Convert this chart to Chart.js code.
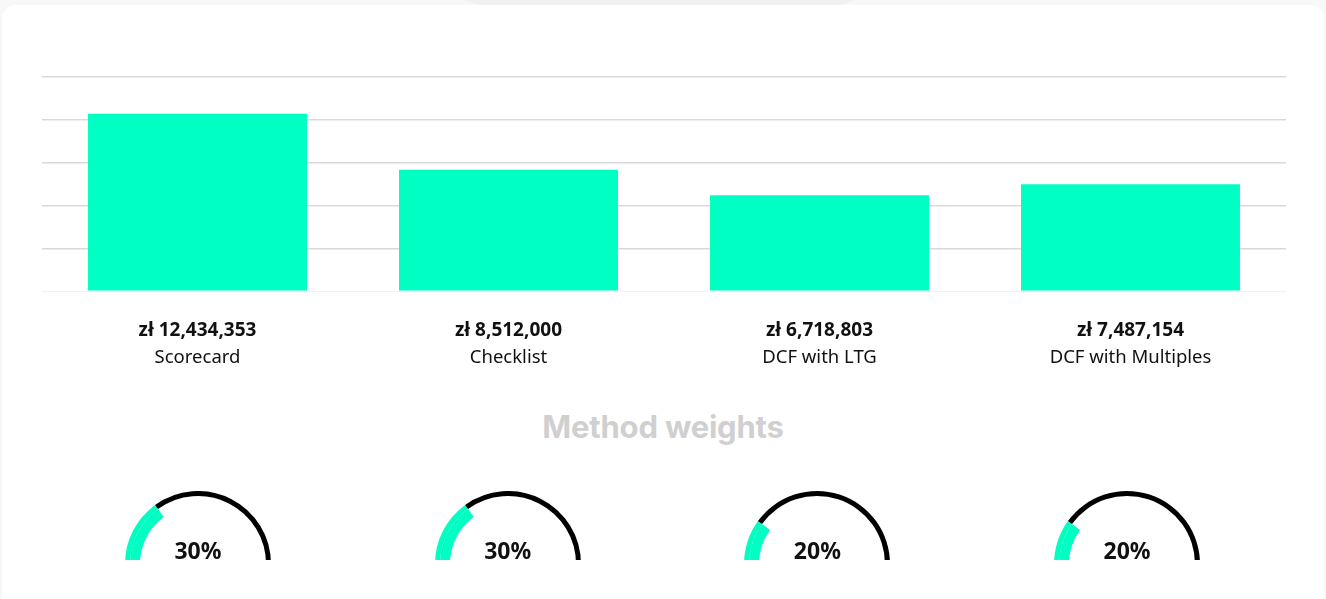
<!DOCTYPE html>
<html>
<head>
<meta charset="utf-8">
<script src="https://cdn.jsdelivr.net/npm/chart.js@4.4.0/dist/chart.umd.min.js"></script>
<style>
  body { margin: 0; background: #f8f8f8; width: 1326px; height: 599px; overflow: hidden; position: relative; font-family: "Noto Sans", sans-serif; }
  .bump { position: absolute; left: 440px; top: -40px; width: 440px; height: 45px; background: #f1f1f1; border-radius: 0 0 60px 60px; }
  .card { position: absolute; left: 2px; top: 5px; width: 1322px; height: 640px; background: #fff; border-radius: 14px; }
  #barWrap { position: absolute; left: 42px; top: 75px; width: 1244px; height: 295px; }
  h2 { position: absolute; left: 0; width: 1326px; top: 406px; margin: 0; text-align: center; font-family: Inter, sans-serif; font-weight: 700; font-size: 31px; line-height: 42px; letter-spacing: -0.2px; color: #d0d0d0; }
  .gauge { position: absolute; top: 491px; width: 146px; height: 69px; overflow: hidden; }
  .gauge div { width: 146px; height: 73px; }
  .pct { position: absolute; top: 535px; width: 146px; text-align: center; font-weight: 700; font-size: 23px; line-height: 30px; color: #111; }
</style>
</head>
<body>
<div class="bump"></div>
<div class="card"></div>
<div id="barWrap"><canvas id="valuationChart"></canvas></div>
<h2>Method weights</h2>
<div id="gauges"></div>
<script>
const methods = ["Scorecard", "Checklist", "DCF with LTG", "DCF with Multiples"];
const valuations = [12434353, 8512000, 6718803, 7487154];
const weights = [30, 30, 20, 20];
const yTicks = [0, 3000000, 6000000, 9000000, 12000000, 15000000];

const green = "#00ffc3";

const valueLabels = valuations.map((v) => "zł " + v.toLocaleString("en-US"));

new Chart(document.getElementById("valuationChart"), {
  type: "bar",
  data: {
    labels: valueLabels,
    datasets: [
      {
        label: "Valuation",
        data: valuations,
        backgroundColor: green,
        borderWidth: 0,
        barPercentage: 0.704,
        categoryPercentage: 1,
        xAxisID: "x",
      },
    ],
  },
  options: {
    responsive: true,
    maintainAspectRatio: false,
    animation: false,
    layout: { padding: { top: 2, left: 0, right: 0, bottom: 0 } },
    plugins: { legend: { display: false }, tooltip: { enabled: false } },
    scales: {
      y: {
        min: yTicks[0],
        max: yTicks[yTicks.length - 1],
        ticks: { display: false, stepSize: yTicks[1] - yTicks[0] },
        border: { display: false },
        grid: {
          drawTicks: false,
          lineWidth: 1.5,
          color: (ctx) => (ctx.tick && ctx.tick.value === 0 ? "rgba(0,0,0,0)" : "#d9d9d9"),
        },
      },
      x: {
        position: "bottom",
        grid: { display: false, drawTicks: false },
        border: { display: true, color: "#f2f2f2", width: 1 },
        ticks: {
          padding: 28,
          color: "#111",
          font: { family: "'Noto Sans'", size: 19, weight: "bold" },
        },
      },
      x2: {
        type: "category",
        position: "bottom",
        labels: methods,
        offset: true,
        grid: { display: false, drawTicks: false },
        border: { display: false },
        ticks: {
          padding: -23,
          color: "#111",
          font: { family: "'Noto Sans'", size: 18.5 },
        },
      },
    },
  },
});

// one half-doughnut per method weight
const gaugeBox = document.getElementById("gauges");
weights.forEach((w, i) => {
  const cx = 198 + i * 309.7;
  const wrap = document.createElement("div");
  wrap.className = "gauge";
  wrap.style.left = cx - 73 + "px";
  const inner = document.createElement("div");
  const canvas = document.createElement("canvas");
  inner.appendChild(canvas);
  wrap.appendChild(inner);
  gaugeBox.appendChild(wrap);

  const pct = document.createElement("div");
  pct.className = "pct";
  pct.style.left = cx - 73 + "px";
  pct.textContent = w + "%";
  gaugeBox.appendChild(pct);

  new Chart(canvas, {
    type: "doughnut",
    data: {
      labels: ["Weight", "Rest"],
      datasets: [
        { data: [w, 100 - w], backgroundColor: [green, "#000"], borderWidth: 0, weight: 1 },
        { data: [w, 100 - w], backgroundColor: [green, "rgba(0,0,0,0)"], borderWidth: 0, weight: 2 },
      ],
    },
    options: {
      responsive: true,
      maintainAspectRatio: false,
      animation: false,
      rotation: -90,
      circumference: 180,
      cutout: "79.5%",
      plugins: { legend: { display: false }, tooltip: { enabled: false } },
    },
  });
});
</script>
</body>
</html>
